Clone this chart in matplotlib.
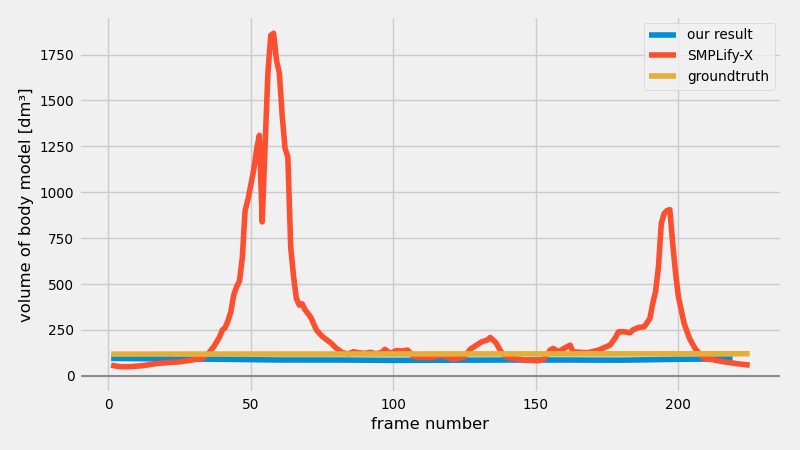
import matplotlib
matplotlib.use('Agg')
import matplotlib.pyplot as plt

## Data
smplx_frames = [1, 3, 5, 8, 12, 17, 21, 25, 29, 33, 35, 37, 39, 40, 41, 42, 43, 44, 45, 46,
                47, 48, 49, 50, 51, 52, 53, 54, 55, 56, 57, 58, 59, 60, 61, 62, 63, 64, 65, 66,
                67, 68, 69, 71, 73, 75, 78, 80, 82, 84, 86, 88, 90, 92, 94, 96, 97, 99, 101, 103,
                105, 107, 110, 114, 117, 121, 125, 127, 129, 131, 133, 134, 136, 138, 140, 142, 146, 151, 153, 155,
                156, 158, 160, 162, 163, 168, 172, 176, 178, 179, 181, 183, 184, 186, 188, 190, 191, 192, 193, 194,
                195, 196, 197, 198, 199, 200, 202, 204, 206, 209, 213, 216, 220, 225]
smplx_volume = [58, 52, 49, 50, 55, 67, 72, 76, 85, 96, 120, 158, 210, 249, 262, 300, 348, 440, 484, 515,
                640, 900, 960, 1040, 1120, 1230, 1310, 838, 1250, 1650, 1855, 1866, 1720, 1650, 1420, 1240, 1190, 700, 540, 420,
                385, 392, 360, 320, 250, 215, 180, 150, 128, 118, 131, 125, 122, 128, 120, 128, 144, 122, 138, 135,
                140, 105, 100, 100, 112, 90, 103, 145, 165, 185, 195, 209, 180, 125, 100, 95, 85, 82, 95, 140,
                149, 132, 150, 167, 131, 125, 140, 167, 210, 240, 240, 234, 250, 263, 267, 312, 394, 460, 593, 830,
                884, 900, 905, 720, 560, 430, 285, 200, 145, 95, 85, 76, 67, 58]

ours_frames = [1, 20, 40, 60, 80, 100, 120, 140, 160, 180, 200, 219]
ours_volume = [95, 92, 90, 86, 86, 84, 85, 86, 86, 85, 90, 92]

gt_frames = [1, 225]
gt_volume = [118, 120]

plt.style.use('fivethirtyeight')
plt.rcParams['font.size'] = 9.8

fig, ax = plt.subplots(figsize=(8, 4.5), dpi=100)
ax.plot(ours_frames, ours_volume, label='our result')
ax.plot(smplx_frames, smplx_volume, label='SMPLify-X')
ax.plot(gt_frames, gt_volume, label='groundtruth')
# zero line
ax.axhline(y=0, color='#8c8c8c', linewidth=1.5)
ax.set_ylim(-93, 1959)

ax.set_xlabel('frame number')
ax.set_ylabel('volume of body model [dm³]')
ax.legend(loc='upper right')

fig.subplots_adjust(left=0.099, right=0.977, top=0.964, bottom=0.127)
fig.savefig('out.png')
